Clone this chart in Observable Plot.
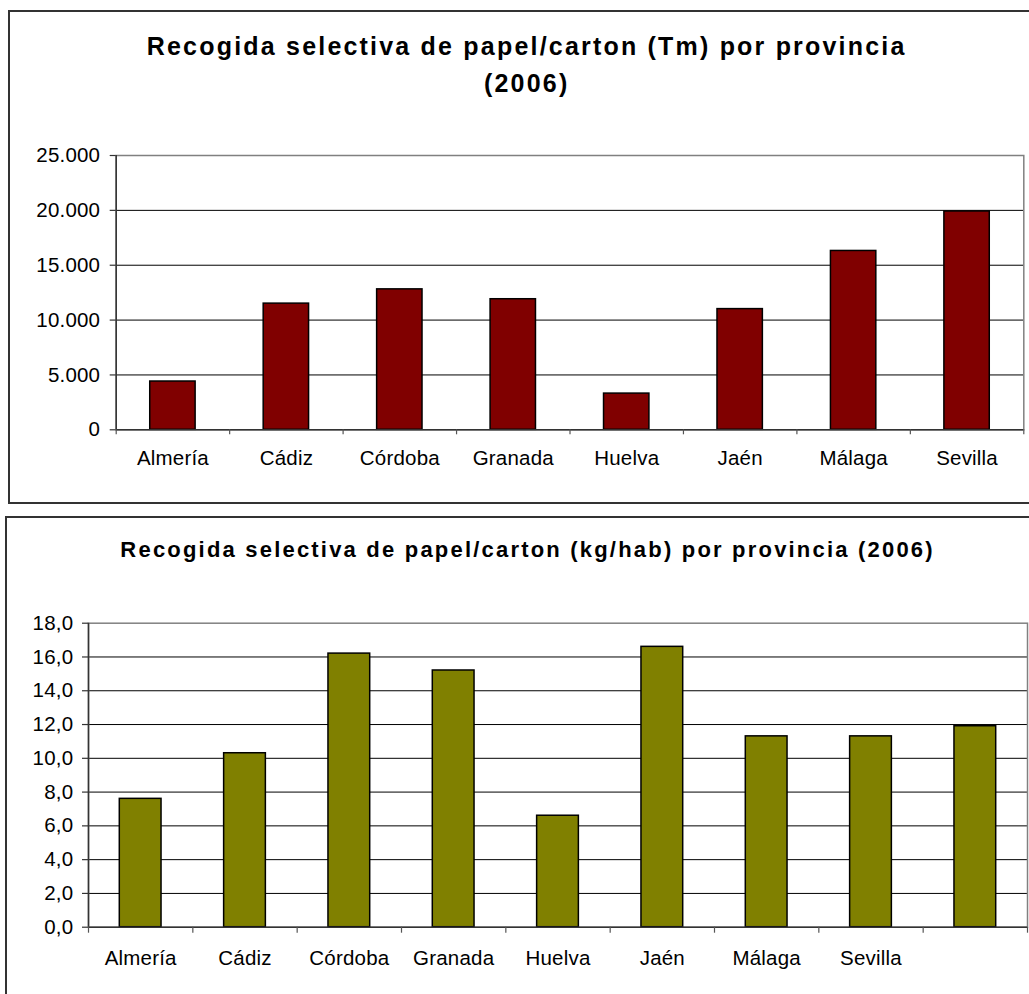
<!DOCTYPE html>
<html><head><meta charset="utf-8">
<script src="https://cdn.jsdelivr.net/npm/d3@7"></script>
<script src="https://cdn.jsdelivr.net/npm/@observablehq/plot@0.6"></script>
<style>
html,body{margin:0;padding:0;width:1029px;height:994px;overflow:hidden;background:#fff;}
body{position:relative;font-family:"Liberation Sans",Arial,sans-serif;}
.box{position:absolute;border:2px solid #333;box-sizing:border-box;}
.title{position:absolute;font-weight:bold;color:#000;text-align:center;white-space:nowrap;}
.chart{position:absolute;left:0;}
.chart svg{background:transparent;overflow:visible;}
.chart svg text{letter-spacing:0.2px;}
</style></head><body>
<div class="box" style="left:8px;top:10px;width:1045px;height:494px"></div>
<div class="box" style="left:5px;top:516px;width:1045px;height:520px"></div>
<div class="title" style="left:26.7px;top:33.8px;width:1000px;font-size:25px;line-height:25px;letter-spacing:2.2px">Recogida selectiva de papel/carton (Tm) por provincia</div>
<div class="title" style="left:26.7px;top:70.5px;width:1000px;font-size:25px;line-height:25px;letter-spacing:2.2px">(2006)</div>
<div class="title" style="left:27.6px;top:538.7px;width:1000px;font-size:22px;line-height:22px;letter-spacing:2.2px">Recogida selectiva de papel/carton (kg/hab) por provincia (2006)</div>
<div class="chart" id="c1" style="top:100px"></div>
<div class="chart" id="c2" style="top:600px"></div>
<script>
// ---- data ----
const provincias = ["Almería", "Cádiz", "Córdoba", "Granada", "Huelva", "Jaén", "Málaga", "Sevilla"];
const toneladas = [4400, 11500, 12800, 11900, 3300, 11000, 16300, 19900];
const yTicks1 = [0, 5000, 10000, 15000, 20000, 25000];

const provincias2 = ["Almería", "Cádiz", "Córdoba", "Granada", "Huelva", "Jaén", "Málaga", "Sevilla", ""];
const kgHab = [7.6, 10.3, 16.2, 15.2, 6.6, 16.6, 11.3, 11.3, 11.9];
const yTicks2 = [0, 2, 4, 6, 8, 10, 12, 14, 16, 18];

const fontFamily = "'Liberation Sans', Arial, sans-serif";
const labelSize = 20.5;

function excelBars({cats, vals, ticks, fmt, fill, width, height, mL, mR, mT, mB, tickLen, tickPad, xPad, xTickLen}) {
  const data = cats.map((c, i) => ({cat: c, v: vals[i]}));
  const step = (width - mL - mR) / cats.length;
  const yMax = ticks[ticks.length - 1];
  return Plot.plot({
    width, height,
    marginLeft: mL, marginRight: mR, marginTop: mT, marginBottom: mB,
    style: {background: "transparent", fontFamily, fontSize: labelSize + "px", color: "#000", overflow: "visible"},
    x: {domain: cats, paddingInner: 0.6, paddingOuter: 0.3, round: false},
    y: {domain: [0, yMax]},
    marks: [
      Plot.ruleY(ticks.filter(t => t > 0 && t < yMax), {stroke: "#000", strokeWidth: 1}),
      Plot.frame({stroke: "#808080", strokeWidth: 1.5}),
      Plot.barY(data, {x: "cat", y: "v", fill, stroke: "#000", strokeWidth: 1.5}),
      Plot.ruleY([0], {stroke: "#333", strokeWidth: 1.5}),
      Plot.ruleX([cats[0]], {dx: -step / 2, stroke: "#333", strokeWidth: 1.5}),
      Plot.axisY({ticks, tickSize: tickLen, tickPadding: tickPad, tickFormat: fmt, label: null, fontSize: labelSize, stroke: "#333", strokeWidth: 1.2, fill: "#000"}),
      Plot.axisX({tickSize: 0, tickPadding: xPad, label: null, fontSize: labelSize, fill: "#000"}),
      Plot.axisX({tickSize: xTickLen, dx: -step / 2, tickFormat: () => "", label: null, stroke: "#555", strokeWidth: 1.2}),
      Plot.axisX({ticks: [cats[cats.length - 1]], tickSize: xTickLen, dx: step / 2, tickFormat: () => "", label: null, stroke: "#555", strokeWidth: 1.2})
    ]
  });
}

const fmtThousands = d => d3.format(",")(d).replace(/,/g, ".");
const fmtDecimal = d => d3.format(".1f")(d).replace(".", ",");

document.getElementById("c1").append(excelBars({
  cats: provincias, vals: toneladas, ticks: yTicks1, fmt: fmtThousands, fill: "#800000",
  width: 1029, height: 380, mL: 115.7, mR: 5.7, mT: 55, mB: 50.7,
  tickLen: 6, tickPad: 10, xPad: 21, xTickLen: 5
}));

document.getElementById("c2").append(excelBars({
  cats: provincias2, vals: kgHab, ticks: yTicks2, fmt: fmtDecimal, fill: "#808000",
  width: 1029, height: 394, mL: 88, mR: 2, mT: 22.7, mB: 67.3,
  tickLen: 6, tickPad: 9.2, xPad: 23, xTickLen: 6
}));
</script>
</body></html>
